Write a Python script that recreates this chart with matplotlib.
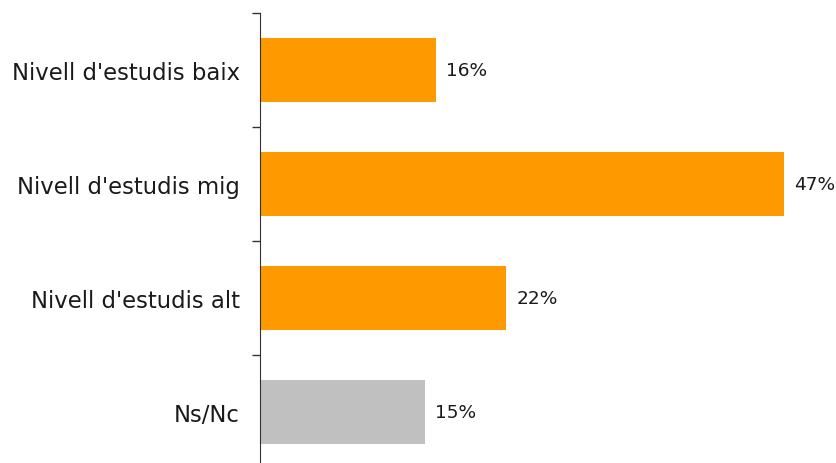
import matplotlib
matplotlib.use("Agg")
import matplotlib.pyplot as plt
import numpy as np

categories = ["Nivell d'estudis baix", "Nivell d'estudis mig", "Nivell d'estudis alt", "Ns/Nc"]
values = [15.8, 47.0, 22.1, 14.8]
colors = ["#FF9900", "#FF9900", "#FF9900", "#C0C0C0"]

fig = plt.figure(figsize=(8.36, 4.64), dpi=100)
ax = fig.add_axes([260/836, -6/464, 576/836, 456/464])
y = np.arange(len(categories))
ax.barh(y, values, height=0.56, color=colors)
ax.set_ylim(len(categories) - 0.5, -0.5)
ax.set_xlim(0, 576/11.15)

for yi, v in zip(y, values):
    ax.text(v + 0.9, yi, f"{v:.0f}%", va="center", ha="left", fontsize=13.3, color="#1a1a1a")

ax.set_yticks(y)
ax.set_yticklabels(categories, fontsize=16.4, color="#1a1a1a")
ax.tick_params(axis="y", which="major", length=0, pad=14.4)
ax.set_yticks(np.arange(-0.5, len(categories) + 0.5, 1), minor=True)
ax.tick_params(axis="y", which="minor", length=6, width=1, color="#333333")
ax.set_xticks([])
for s in ["top", "right", "bottom"]:
    ax.spines[s].set_visible(False)
ax.spines["left"].set_color("#333333")

fig.savefig("out.png", dpi=100)
